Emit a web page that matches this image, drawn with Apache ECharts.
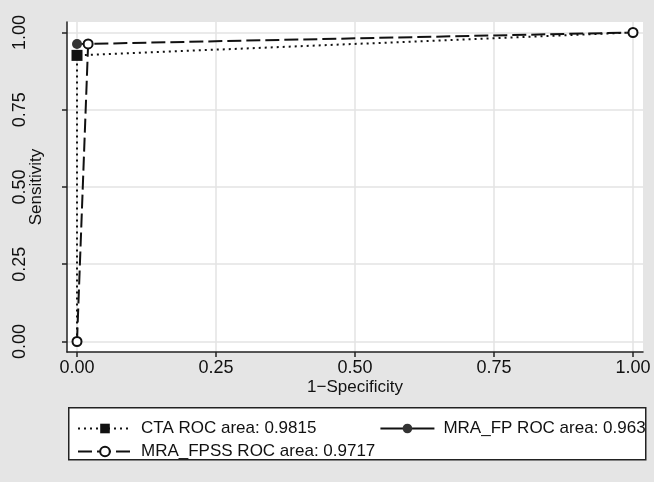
<!DOCTYPE html>
<html>
<head>
<meta charset="utf-8">
<script src="https://cdn.jsdelivr.net/npm/echarts@6/dist/echarts.min.js"></script>
<style>
html,body{margin:0;padding:0;background:#e5e5e5;}
#c{width:654px;height:482px;}
</style>
</head>
<body>
<div id="c"></div>
<script>
// Data
var tickValues = [0, 0.25, 0.5, 0.75, 1];
var ctaX = [0, 0, 1];
var ctaY = [0, 0.926, 1];
var mraFpX = [0, 0.02];
var mraFpY = [0.963, 0.963];
var mraFpssX = [0, 0.02, 1];
var mraFpssY = [0, 0.963, 1];
var seriesNames = ['CTA ROC area: 0.9815', 'MRA_FP ROC area: 0.963', 'MRA_FPSS ROC area: 0.9717'];

function pairs(xs, ys) { return xs.map(function (x, i) { return [x, ys[i]]; }); }

var FONT = 'Liberation Sans, Arial, sans-serif';
var chart = echarts.init(document.getElementById('c'));

var ctaData = pairs(ctaX, ctaY).map(function (p, i) {
  return (i === 1) ? { value: p } : { value: p, symbol: 'none' };
});

chart.setOption({
  backgroundColor: '#e5e5e5',
  animation: false,
  grid: { left: 67, right: 11, top: 22, bottom: 130, show: true, backgroundColor: '#ffffff', borderWidth: 0,
    containLabel: false, outerBoundsMode: 'none' },
  xAxis: {
    type: 'value', min: -0.018, max: 1.018,
    name: '1\u2212Specificity', nameLocation: 'middle', nameGap: 27, nameMoveOverlap: false,
    nameTextStyle: { fontFamily: FONT, fontSize: 17, color: '#111' },
    axisLine: { show: true, onZero: false, lineStyle: { color: '#222', width: 1.5 } },
    axisTick: { show: true, length: 5, customValues: tickValues, lineStyle: { color: '#222', width: 1.5 } },
    axisLabel: { customValues: tickValues, margin: 7, fontFamily: FONT, fontSize: 18, color: '#111',
      formatter: function (v) { return v.toFixed(2); } },
    splitLine: { show: true, lineStyle: { color: '#e3e3e3', width: 1.5 } }
  },
  yAxis: {
    type: 'value', min: -0.034, max: 1.034,
    name: 'Sensitivity', nameLocation: 'middle', nameGap: 22, nameMoveOverlap: false,
    nameTextStyle: { fontFamily: FONT, fontSize: 17, color: '#111' },
    axisLine: { show: true, onZero: false, lineStyle: { color: '#222', width: 1.5 } },
    axisTick: { show: true, length: 5, customValues: tickValues, lineStyle: { color: '#222', width: 1.5 } },
    axisLabel: { customValues: tickValues, rotate: 90, margin: 38, fontFamily: FONT, fontSize: 18, color: '#111',
      formatter: function (v) { return v.toFixed(2); } },
    splitLine: { show: true, lineStyle: { color: '#e3e3e3', width: 1.5 } }
  },
  graphic: [{
    type: 'rect', left: 68, top: 407, z: 0,
    shape: { width: 577, height: 52 },
    style: { fill: '#ffffff', stroke: '#222', lineWidth: 1.5 }
  }],
  legend: [{
    left: 72, top: 415, width: 580, itemWidth: 54, itemHeight: 12, itemGap: 63,
    data: [seriesNames[0], seriesNames[1]],
    textStyle: { fontFamily: FONT, fontSize: 17, color: '#111', padding: [0, 0, 0, 4] },
    z: 5
  }, {
    left: 72, top: 438, width: 580, itemWidth: 54, itemHeight: 12,
    data: [seriesNames[2]],
    textStyle: { fontFamily: FONT, fontSize: 17, color: '#111', padding: [0, 0, 0, 4] },
    z: 5
  }],
  series: [{
    name: seriesNames[0], type: 'line', data: ctaData,
    symbol: 'rect', symbolSize: 11, showAllSymbol: true,
    lineStyle: { color: '#111', width: 2, type: [2, 4] },
    itemStyle: { color: '#111' }, z: 2
  }, {
    name: seriesNames[1], type: 'line', data: pairs(mraFpX, mraFpY),
    symbol: 'circle', symbolSize: 10, showAllSymbol: true,
    lineStyle: { color: '#111', width: 1.8, type: 'solid' },
    itemStyle: { color: '#333' }, z: 3
  }, {
    name: seriesNames[2], type: 'line', data: pairs(mraFpssX, mraFpssY),
    symbol: 'emptyCircle', symbolSize: 9, showAllSymbol: true,
    lineStyle: { color: '#111', width: 2, type: [14, 5] },
    itemStyle: { color: '#111', borderWidth: 1.5 }, z: 4
  }]
});
</script>
</body>
</html>
